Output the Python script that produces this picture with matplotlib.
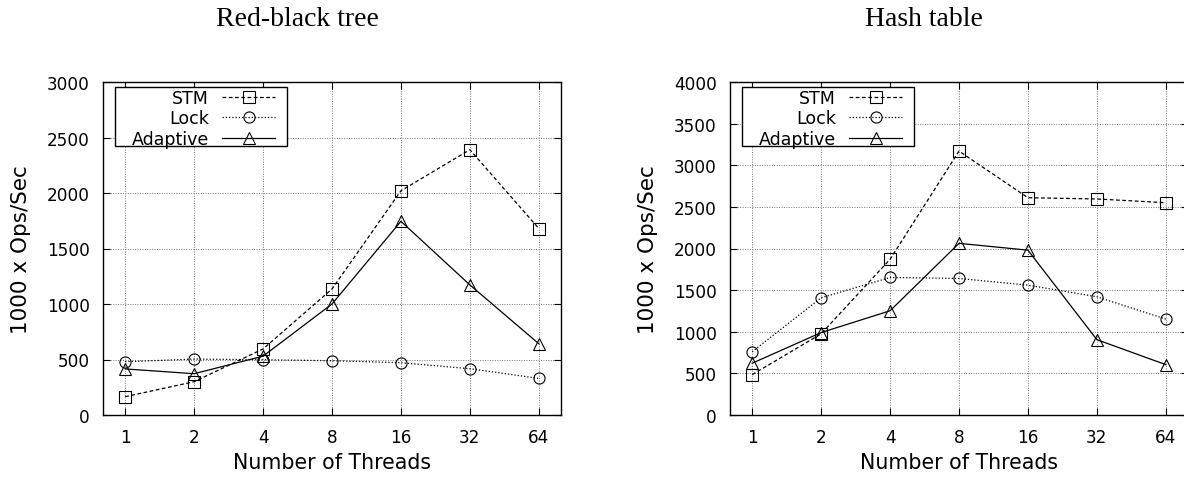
import matplotlib
matplotlib.use("Agg")
import matplotlib.pyplot as plt
from matplotlib.patches import Rectangle

# ---------------------------------------------------------------
# data
# ---------------------------------------------------------------
threads = [1, 2, 4, 8, 16, 32, 64]
thread_labels = ["1", "2", "4", "8", "16", "32", "64"]

rb_stm = [165, 300, 595, 1135, 2020, 2390, 1680]
rb_lock = [480, 504, 498, 489, 471, 417, 330]
rb_adaptive = [415, 372, 530, 1000, 1745, 1172, 642]

ht_stm = [485, 975, 1870, 3170, 2610, 2595, 2550]
ht_lock = [760, 1408, 1652, 1640, 1560, 1420, 1152]
ht_adaptive = [622, 990, 1252, 2062, 1980, 905, 605]

W, H = 1184, 481
AX_W, AX_H = 458, 333
fig = plt.figure(figsize=(W / 100, H / 100), dpi=100)


def panel(left_px, title, stm, lock, adaptive, ymax):
    ax = fig.add_axes([left_px / W, (H - 416) / H, AX_W / W, AX_H / H])
    ax.set_xscale("log", base=2)
    ax.plot(threads, stm, color="black", lw=0.9, ls=(0, (3, 2)),
            marker="s", ms=8, mfc="none", mew=0.8, label="STM")
    ax.plot(threads, lock, color="black", lw=0.9, ls=(0, (1, 1.6)),
            marker="o", ms=8, mfc="none", mew=0.8, label="Lock")
    ax.plot(threads, adaptive, color="black", lw=0.9, ls="-",
            marker="^", ms=8.5, mfc="none", mew=0.8, label="Adaptive")

    ax.set_xlim(0.8, 80)
    ax.set_ylim(0, ymax)
    ax.set_xticks(threads)
    ax.set_xticklabels(thread_labels)
    ax.minorticks_off()
    ax.set_yticks(range(0, ymax + 1, 500))
    ax.tick_params(direction="in", length=5, width=0.8, top=True, right=True,
                   labelsize=12.2, pad=9.5)
    ax.grid(True, color="#777777", ls=(0, (1, 1.5)), lw=0.7)
    for s in ax.spines.values():
        s.set_linewidth(1.0)

    ax.set_xlabel("Number of Threads", fontsize=14.8)
    ax.set_ylabel("1000 x Ops/Sec", fontsize=15.5)
    ax.xaxis.set_label_coords(0.5, -0.112)
    ax.yaxis.set_label_coords(-0.157, 0.5)

    # legend box: gnuplot style, wider than tall padding
    box = Rectangle((12 / AX_W, 1 - 64 / AX_H), 172 / AX_W, 59.5 / AX_H,
                    transform=ax.transAxes, facecolor="white",
                    edgecolor="black", lw=1.0, zorder=4)
    ax.add_patch(box)
    leg = ax.legend(loc="upper right", bbox_to_anchor=(172 / AX_W, 1 - 7 / AX_H),
                    borderaxespad=0, markerfirst=False, fontsize=12.5,
                    handlelength=3.05, handletextpad=0.75, labelspacing=0.14,
                    borderpad=0, frameon=False)
    leg.set_zorder(5)

    fig.text((left_px + AX_W / 2 - 35) / W, 1 - 26 / H, title,
             ha="center", va="baseline", fontsize=20,
             family="Liberation Serif")
    return ax


panel(103, "Red-black tree", rb_stm, rb_lock, rb_adaptive, 3000)
panel(730, "Hash table", ht_stm, ht_lock, ht_adaptive, 4000)

fig.savefig("out.png", dpi=100)
